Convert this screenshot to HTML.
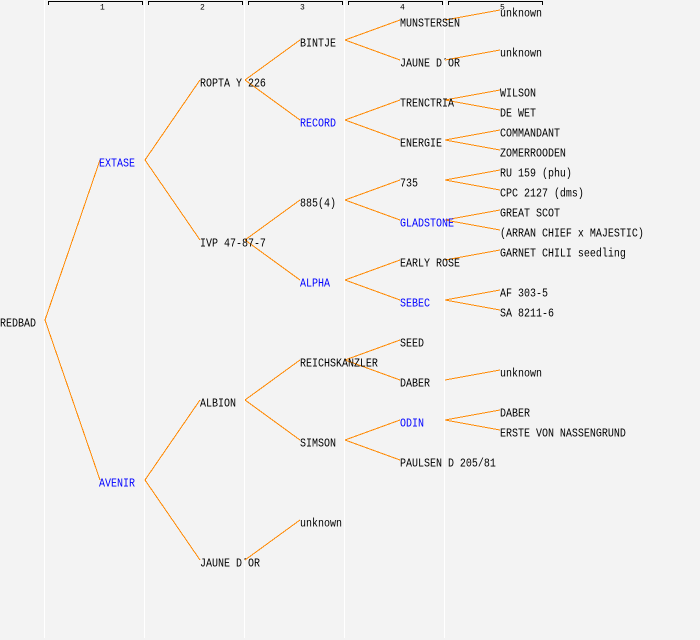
<!DOCTYPE html>
<html>
<head>
<meta charset="utf-8">
<style>
  html, body { margin: 0; padding: 0; background: #f3f3f3; }
  svg { display: block; }
  text { font-family: "Liberation Mono", "DejaVu Sans Mono", monospace; font-size: 10px; fill: #000; }
  text.b { fill: #0000ff; }
  text.h { font-size: 8px; }
  line.e { stroke: #ff8800; stroke-width: 1; }
</style>
</head>
<body>
<svg width="700" height="640" viewBox="0 0 700 640" xmlns="http://www.w3.org/2000/svg">
  <rect x="0" y="0" width="700" height="640" fill="#f3f3f3"/>
  <!-- column separators -->
  <g stroke="#ffffff" stroke-width="1" shape-rendering="crispEdges">
    <line x1="44.5" y1="0" x2="44.5" y2="638"/>
    <line x1="144.5" y1="0" x2="144.5" y2="638"/>
    <line x1="244.5" y1="0" x2="244.5" y2="638"/>
    <line x1="344.5" y1="0" x2="344.5" y2="638"/>
    <line x1="444.5" y1="0" x2="444.5" y2="638"/>
  </g>
  <!-- header brackets -->
  <g stroke="#000" stroke-width="1" fill="none" shape-rendering="crispEdges">
    <path d="M48.5 5 V1.5 H142.5 V5"/>
    <path d="M148.5 5 V1.5 H242.5 V5"/>
    <path d="M248.5 5 V1.5 H342.5 V5"/>
    <path d="M348.5 5 V1.5 H442.5 V5"/>
    <path d="M448.5 5 V1.5 H542.5 V5"/>
  </g>
  <text class="h" x="100" y="9.5">1</text>
  <text class="h" x="200" y="9.5">2</text>
  <text class="h" x="300" y="9.5">3</text>
  <text class="h" x="400" y="9.5">4</text>
  <text class="h" x="500" y="9.5">5</text>

  <!-- edges -->
  <g shape-rendering="crispEdges">
    <line class="e" x1="45" y1="320" x2="100" y2="160"/>
    <line class="e" x1="45" y1="320" x2="100" y2="480"/>

    <line class="e" x1="145" y1="160" x2="200" y2="80"/>
    <line class="e" x1="145" y1="160" x2="200" y2="240"/>
    <line class="e" x1="145" y1="480" x2="200" y2="400"/>
    <line class="e" x1="145" y1="480" x2="200" y2="560"/>

    <line class="e" x1="245" y1="80" x2="300" y2="40"/>
    <line class="e" x1="245" y1="80" x2="300" y2="120"/>
    <line class="e" x1="245" y1="240" x2="300" y2="200"/>
    <line class="e" x1="245" y1="240" x2="300" y2="280"/>
    <line class="e" x1="245" y1="400" x2="300" y2="360"/>
    <line class="e" x1="245" y1="400" x2="300" y2="440"/>
    <line class="e" x1="245" y1="560" x2="300" y2="520"/>

    <line class="e" x1="345" y1="40" x2="400" y2="20"/>
    <line class="e" x1="345" y1="40" x2="400" y2="60"/>
    <line class="e" x1="345" y1="120" x2="400" y2="100"/>
    <line class="e" x1="345" y1="120" x2="400" y2="140"/>
    <line class="e" x1="345" y1="200" x2="400" y2="180"/>
    <line class="e" x1="345" y1="200" x2="400" y2="220"/>
    <line class="e" x1="345" y1="280" x2="400" y2="260"/>
    <line class="e" x1="345" y1="280" x2="400" y2="300"/>
    <line class="e" x1="345" y1="360" x2="400" y2="340"/>
    <line class="e" x1="345" y1="360" x2="400" y2="380"/>
    <line class="e" x1="345" y1="440" x2="400" y2="420"/>
    <line class="e" x1="345" y1="440" x2="400" y2="460"/>

    <line class="e" x1="445" y1="20" x2="500" y2="10"/>
    <line class="e" x1="445" y1="60" x2="500" y2="50"/>
    <line class="e" x1="445" y1="100" x2="500" y2="90"/>
    <line class="e" x1="445" y1="100" x2="500" y2="110"/>
    <line class="e" x1="445" y1="140" x2="500" y2="130"/>
    <line class="e" x1="445" y1="140" x2="500" y2="150"/>
    <line class="e" x1="445" y1="180" x2="500" y2="170"/>
    <line class="e" x1="445" y1="180" x2="500" y2="190"/>
    <line class="e" x1="445" y1="220" x2="500" y2="210"/>
    <line class="e" x1="445" y1="220" x2="500" y2="230"/>
    <line class="e" x1="445" y1="260" x2="500" y2="250"/>
    <line class="e" x1="445" y1="300" x2="500" y2="290"/>
    <line class="e" x1="445" y1="300" x2="500" y2="310"/>
    <line class="e" x1="445" y1="380" x2="500" y2="370"/>
    <line class="e" x1="445" y1="420" x2="500" y2="410"/>
    <line class="e" x1="445" y1="420" x2="500" y2="430"/>
  </g>

  <!-- labels -->
  <text transform="translate(0,326.5) scale(1,1.2)">REDBAD</text>

  <text class="b" transform="translate(99,166.5) scale(1,1.2)">EXTASE</text>
  <text class="b" transform="translate(99,486.5) scale(1,1.2)">AVENIR</text>

  <text transform="translate(200,86.5) scale(1,1.2)">ROPTA Y 226</text>
  <text transform="translate(200,246.5) scale(1,1.2)">IVP 47-87-7</text>
  <text transform="translate(200,406.5) scale(1,1.2)">ALBION</text>
  <text transform="translate(200,566.5) scale(1,1.2)">JAUNE D´OR</text>

  <text transform="translate(300,46.5) scale(1,1.2)">BINTJE</text>
  <text class="b" transform="translate(300,126.5) scale(1,1.2)">RECORD</text>
  <text transform="translate(300,206.5) scale(1,1.2)">885(4)</text>
  <text class="b" transform="translate(300,286.5) scale(1,1.2)">ALPHA</text>
  <text transform="translate(300,366.5) scale(1,1.2)">REICHSKANZLER</text>
  <text transform="translate(300,446.5) scale(1,1.2)">SIMSON</text>
  <text transform="translate(300,526.5) scale(1,1.2)">unknown</text>

  <text transform="translate(400,26.5) scale(1,1.2)">MUNSTERSEN</text>
  <text transform="translate(400,66.5) scale(1,1.2)">JAUNE D´OR</text>
  <text transform="translate(400,106.5) scale(1,1.2)">TRENCTRIA</text>
  <text transform="translate(400,146.5) scale(1,1.2)">ENERGIE</text>
  <text transform="translate(400,186.5) scale(1,1.2)">735</text>
  <text class="b" transform="translate(400,226.5) scale(1,1.2)">GLADSTONE</text>
  <text transform="translate(400,266.5) scale(1,1.2)">EARLY ROSE</text>
  <text class="b" transform="translate(400,306.5) scale(1,1.2)">SEBEC</text>
  <text transform="translate(400,346.5) scale(1,1.2)">SEED</text>
  <text transform="translate(400,386.5) scale(1,1.2)">DABER</text>
  <text class="b" transform="translate(400,426.5) scale(1,1.2)">ODIN</text>
  <text transform="translate(400,466.5) scale(1,1.2)">PAULSEN D 205/81</text>

  <text transform="translate(500,16.5) scale(1,1.2)">unknown</text>
  <text transform="translate(500,56.5) scale(1,1.2)">unknown</text>
  <text transform="translate(500,96.5) scale(1,1.2)">WILSON</text>
  <text transform="translate(500,116.5) scale(1,1.2)">DE WET</text>
  <text transform="translate(500,136.5) scale(1,1.2)">COMMANDANT</text>
  <text transform="translate(500,156.5) scale(1,1.2)">ZOMERROODEN</text>
  <text transform="translate(500,176.5) scale(1,1.2)">RU 159 (phu)</text>
  <text transform="translate(500,196.5) scale(1,1.2)">CPC 2127 (dms)</text>
  <text transform="translate(500,216.5) scale(1,1.2)">GREAT SCOT</text>
  <text transform="translate(500,236.5) scale(1,1.2)">(ARRAN CHIEF x MAJESTIC)</text>
  <text transform="translate(500,256.5) scale(1,1.2)">GARNET CHILI seedling</text>
  <text transform="translate(500,296.5) scale(1,1.2)">AF 303-5</text>
  <text transform="translate(500,316.5) scale(1,1.2)">SA 8211-6</text>
  <text transform="translate(500,376.5) scale(1,1.2)">unknown</text>
  <text transform="translate(500,416.5) scale(1,1.2)">DABER</text>
  <text transform="translate(500,436.5) scale(1,1.2)">ERSTE VON NASSENGRUND</text>
</svg>
</body>
</html>
